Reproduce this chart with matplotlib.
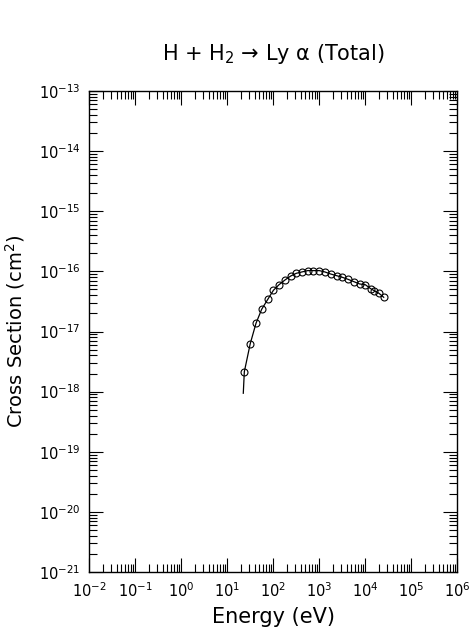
import numpy as np
import matplotlib
matplotlib.use('Agg')
import matplotlib.pyplot as plt
from matplotlib.ticker import FixedLocator, LogLocator, NullFormatter, LogFormatterMathtext

# data (energy in eV, cross section in cm^2)
energy = [23.8, 32, 42.7, 56.7, 77.8, 102, 135, 182, 243, 321, 421, 568,
          754, 1017, 1350, 1795, 2420, 3215, 4270, 5770, 7670, 10170,
          13300, 15900, 20100, 25500]
sigma = [2.14e-18, 6.27e-18, 1.37e-17, 2.34e-17, 3.47e-17, 4.84e-17,
         6.0e-17, 7.19e-17, 8.38e-17, 9.29e-17, 9.77e-17, 1.03e-16,
         1.03e-16, 1.03e-16, 9.77e-17, 9.04e-17, 8.48e-17, 7.97e-17,
         7.38e-17, 6.73e-17, 6.17e-17, 6.0e-17, 5.15e-17, 4.77e-17,
         4.32e-17, 3.71e-17]

# fitted curve (starts just below the first point)
fit_energy = [22.6] + energy
fit_sigma = [9.4e-19] + sigma

# axis decades
x_decades = np.arange(-2, 7)
y_decades = np.arange(-21, -12)

fig = plt.figure(figsize=(4.7, 6.34), dpi=100)
ax = fig.add_axes([89 / 470, 62 / 634, 368 / 470, 481 / 634])

ax.plot(fit_energy, fit_sigma, color='black', lw=0.9)
ax.plot(energy, sigma, 'o', mfc='none', mec='black', ms=5, mew=0.8)

ax.set_xscale('log')
ax.set_yscale('log')
ax.set_xlim(1e-2, 1e6)
ax.set_ylim(1e-21, 1e-13)

ax.xaxis.set_major_locator(FixedLocator(10.0 ** x_decades))
ax.yaxis.set_major_locator(FixedLocator(10.0 ** y_decades))
for axis in (ax.xaxis, ax.yaxis):
    axis.set_major_formatter(LogFormatterMathtext())
    axis.set_minor_locator(LogLocator(base=10, subs=np.arange(2, 10), numticks=100))
    axis.set_minor_formatter(NullFormatter())

ax.tick_params(which='both', direction='in', top=True, right=True, width=0.8)
ax.tick_params(which='major', length=10, labelsize=10.5)
ax.tick_params(axis='x', which='major', pad=7)
ax.tick_params(axis='y', which='major', pad=6)
ax.tick_params(which='minor', length=6)
for s in ax.spines.values():
    s.set_linewidth(1.0)

# labels, title
ax.set_xlabel('Energy (eV)', fontsize=15, va='center')
ax.xaxis.set_label_coords(0.5, -0.094)
ax.set_ylabel('Cross Section (cm$^2$)', fontsize=14, va='center')
ax.yaxis.set_label_coords(-0.2, 0.5)
ax.set_title('H + H$_2$ → Ly α (Total)', fontsize=15, pad=22)

fig.savefig('out.png', dpi=100)
